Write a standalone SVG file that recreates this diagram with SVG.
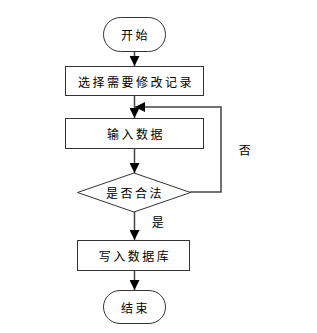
<svg xmlns="http://www.w3.org/2000/svg" width="317" height="333" viewBox="0 0 317 333">
<defs>
<marker id="ah" viewBox="0 0 10 10" refX="10" refY="5" markerWidth="10" markerHeight="10" markerUnits="userSpaceOnUse" orient="auto">
<path d="M0,0 L10,5 L0,10 z" fill="#000"/>
</marker>
<style>
.shape{fill:#fff;stroke:#333;stroke-width:1}
.lbl{font-family:"Noto Sans CJK SC","Liberation Sans",sans-serif;font-size:12px;letter-spacing:2.5px;fill:#000;text-anchor:middle;dominant-baseline:central}
.con{fill:none;stroke:#444;stroke-width:1.5;marker-end:url(#ah)}
</style>
</defs>
<rect width="317" height="333" fill="#fff"/>
<g id="connectors">
<path class="con" d="M134.5,52 V66"/>
<path class="con" d="M134.5,96 V118"/>
<path class="con" d="M190,192 H221 V107 H135"/>
<path class="con" d="M134.5,149 V173"/>
<path class="con" d="M134.5,212 V240"/>
<path class="con" d="M134.5,271 V290"/>
<text class="lbl" x="246" y="149">否</text>
<text class="lbl" x="159" y="221">是</text>
</g>
<g id="start">
<rect class="shape" x="103.5" y="17.5" width="62" height="34" rx="17"/>
<text class="lbl" x="135.5" y="34.5">开始</text>
</g>
<g id="select">
<rect class="shape" x="65.5" y="66.5" width="138" height="29"/>
<text class="lbl" x="136" y="81">选择需要修改记录</text>
</g>
<g id="input">
<rect class="shape" x="65.5" y="118.5" width="138" height="30"/>
<text class="lbl" x="136" y="133.5">输入数据</text>
</g>
<g id="check">
<path class="shape" d="M134,173 L190.5,192.5 L134,212 L77.5,192.5 z"/>
<text class="lbl" x="135" y="192.5">是否合法</text>
</g>
<g id="write">
<rect class="shape" x="77.5" y="240.5" width="112" height="30"/>
<text class="lbl" x="135" y="255.5">写入数据库</text>
</g>
<g id="end">
<rect class="shape" x="103.5" y="290.5" width="62" height="33" rx="16.5"/>
<text class="lbl" x="135.5" y="307">结束</text>
</g>
</svg>
